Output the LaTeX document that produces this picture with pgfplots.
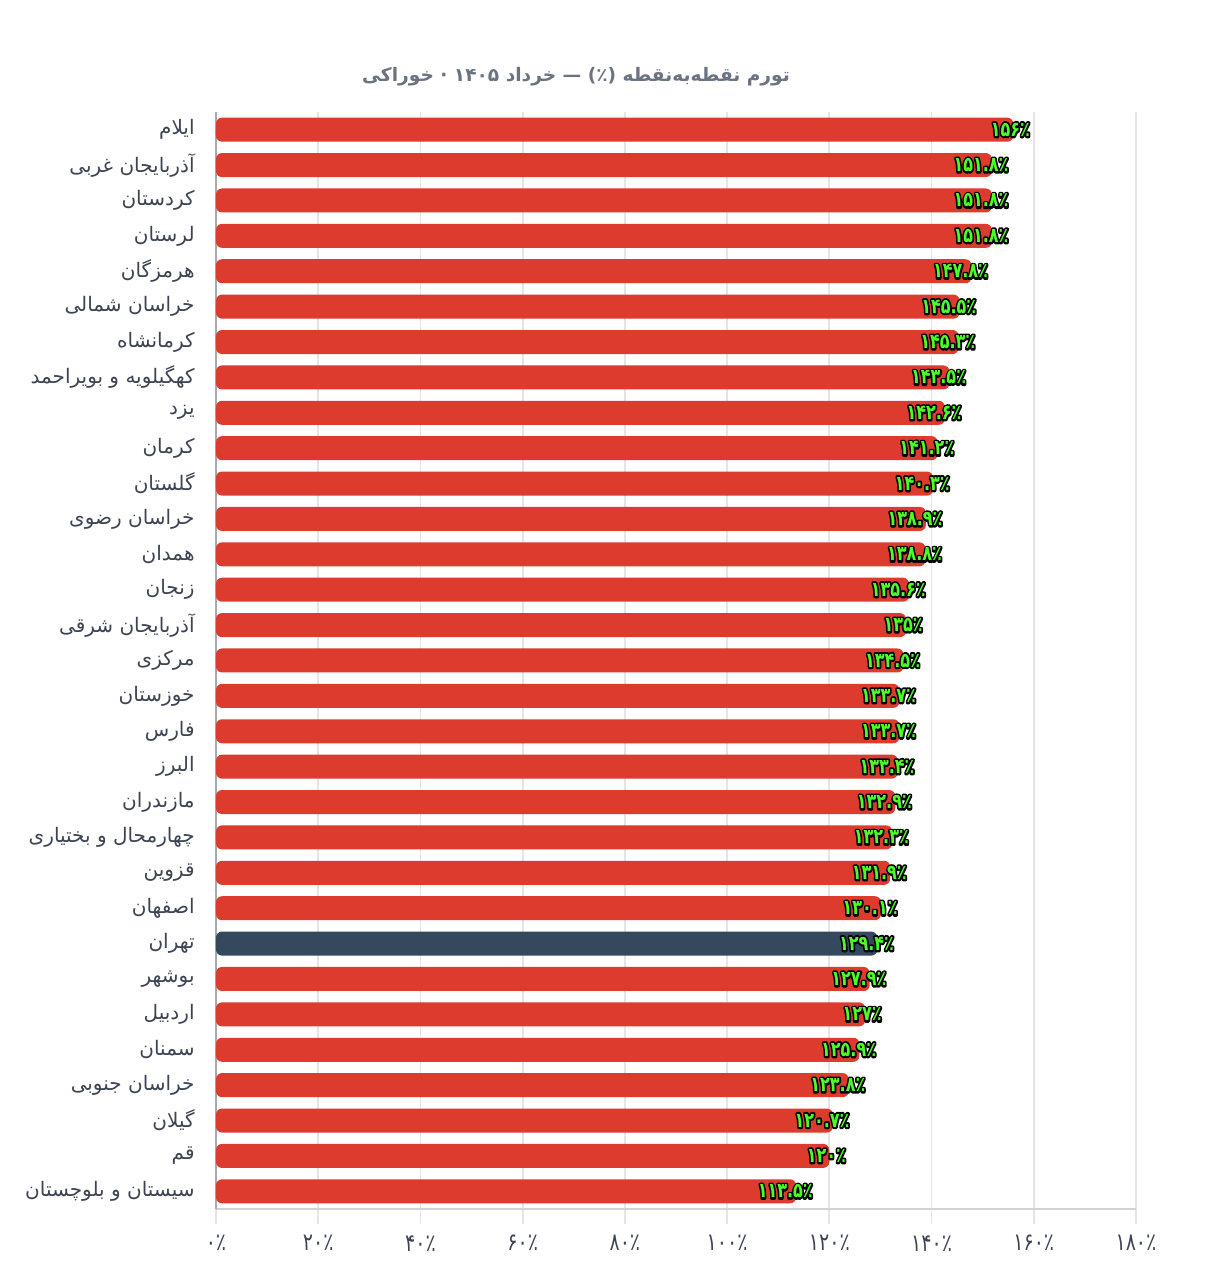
\documentclass[border=0pt]{standalone}
\usepackage{fontspec}
\usepackage{pgfplots}
\pgfplotsset{compat=1.18}
\usepackage{pgfplotstable}
\TeXXeTstate=1
\newfontfamily\fa[Script=Arabic]{DejaVu Sans}

\definecolor{barred}{HTML}{DC3B2E}
\definecolor{bartehran}{HTML}{34495E}
\definecolor{labgreen}{HTML}{4CFF2A}
\definecolor{gridgray}{HTML}{E4E4E9}
\definecolor{axisgray}{HTML}{D2D3D8}
\definecolor{txt}{HTML}{3C4352}
\definecolor{titlegray}{HTML}{6B7280}

% taller, condensed-looking digits
\newcommand\tall[1]{\scalebox{1}[1.28]{#1}}

% Latin digits -> Persian digits
\def\fadigit#1{\ifx.#1.\else\ifcase#1 ۰\or ۱\or ۲\or ۳\or ۴\or ۵\or ۶\or ۷\or ۸\or ۹\fi\fi}
\def\fadigitsA#1{\ifx\relax#1\else\fadigit{#1}\expandafter\fadigitsA\fi}
\def\fadigits#1{\fadigitsA#1\relax}
\def\fapct{\expandafter\fadigits\expandafter{\pgfplotspointmeta}٪}

% green text with a black stroked halo underneath
\newcommand\outlined[1]{%
  \rlap{\color{black}\special{pdf:literal direct 2 Tr 1.6 w 0 0 0 RG 1 J 1 j}#1\special{pdf:literal direct 0 Tr 1 w}}%
  {\color{labgreen}#1}}

% provinces, bottom bar first (y = position)
\pgfplotstableread{
y val
0 113.5
1 120
2 120.7
3 123.8
4 125.9
5 127
6 127.9
8 130.1
9 131.9
10 132.3
11 132.9
12 133.4
13 133.7
14 133.7
15 134.5
16 135
17 135.6
18 138.8
19 138.9
20 140.3
21 141.2
22 142.6
23 143.5
24 145.3
25 145.5
26 147.8
27 151.8
28 151.8
29 151.8
30 156
}\provrows

\pgfplotstableread{
y val
7 129.4
}\tehranrow

\begin{document}
\begin{tikzpicture}
\useasboundingbox (-108pt,-35.5pt) rectangle (502.5pt,604.5pt);
\begin{axis}[
  at={(0,0)}, anchor=south west,
  scale only axis, width=460pt, height=548.5pt,
  xmin=0, xmax=180, ymin=-0.5, ymax=30.5,
  xbar, bar width=12pt, bar shift=0pt,
  axis x line*=bottom, axis y line*=left,
  x axis line style={draw=axisgray, line width=1.3pt},
  y axis line style={draw=axisgray!80!black, line width=0.9pt},
  xmajorgrids, major grid style={draw=gridgray, line width=0.9pt},
  tick align=outside,
  xtick={0,20,...,180},
  xticklabels={\tall{۰٪},\tall{۲۰٪},\tall{۴۰٪},\tall{۶۰٪},\tall{۸۰٪},
    \tall{۱۰۰٪},\tall{۱۲۰٪},\tall{۱۴۰٪},\tall{۱۶۰٪},\tall{۱۸۰٪}},
  xtick style={draw=gridgray, line width=0.9pt},
  major tick length=7.5pt,
  xticklabel style={font=\fa\fontsize{9.5}{10}\selectfont, text=txt, inner sep=0pt, yshift=-5.5pt},
  ytick={0,...,30},
  ytick style={draw=none},
  yticklabels={
    \beginR سیستان و بلوچستان\endR,\beginR قم\endR,\beginR گیلان\endR,
    \beginR خراسان جنوبی\endR,\beginR سمنان\endR,\beginR اردبیل\endR,
    \beginR بوشهر\endR,\beginR تهران\endR,\beginR اصفهان\endR,
    \beginR قزوین\endR,\beginR چهارمحال و بختیاری\endR,\beginR مازندران\endR,
    \beginR البرز\endR,\beginR فارس\endR,\beginR خوزستان\endR,
    \beginR مرکزی\endR,\beginR آذربایجان شرقی\endR,\beginR زنجان\endR,
    \beginR همدان\endR,\beginR خراسان رضوی\endR,\beginR گلستان\endR,
    \beginR کرمان\endR,\beginR یزد\endR,\beginR کهگیلویه و بویراحمد\endR,
    \beginR کرمانشاه\endR,\beginR خراسان شمالی\endR,\beginR هرمزگان\endR,
    \beginR لرستان\endR,\beginR کردستان\endR,\beginR آذربایجان غربی\endR,
    \beginR ایلام\endR},
  yticklabel style={font=\fa\fontsize{10}{11}\selectfont, text=txt, inner sep=0pt, anchor=east, xshift=-3pt},
  point meta=explicit symbolic,
  nodes near coords={\tall{\outlined{\fapct}}},
  every node near coord/.append style={anchor=east, inner sep=0pt, xshift=8.5pt,
    font=\fa\bfseries\fontsize{8}{9}\selectfont},
]
\addplot[fill=barred, draw=none, rounded corners=3pt]
  table[x=val, y=y, meta=val]{\provrows};
\addplot[fill=bartehran, draw=none, rounded corners=3pt]
  table[x=val, y=y, meta=val]{\tehranrow};
\end{axis}
\node[font=\fa\bfseries\fontsize{9.3}{11}\selectfont, text=titlegray]
  at (180pt,566pt) {\beginR تورم نقطه‌به‌نقطه \beginL(٪)\endL{} — خرداد \beginL۱۴۰۵\endL{} · خوراکی\endR};
\end{tikzpicture}
\end{document}
